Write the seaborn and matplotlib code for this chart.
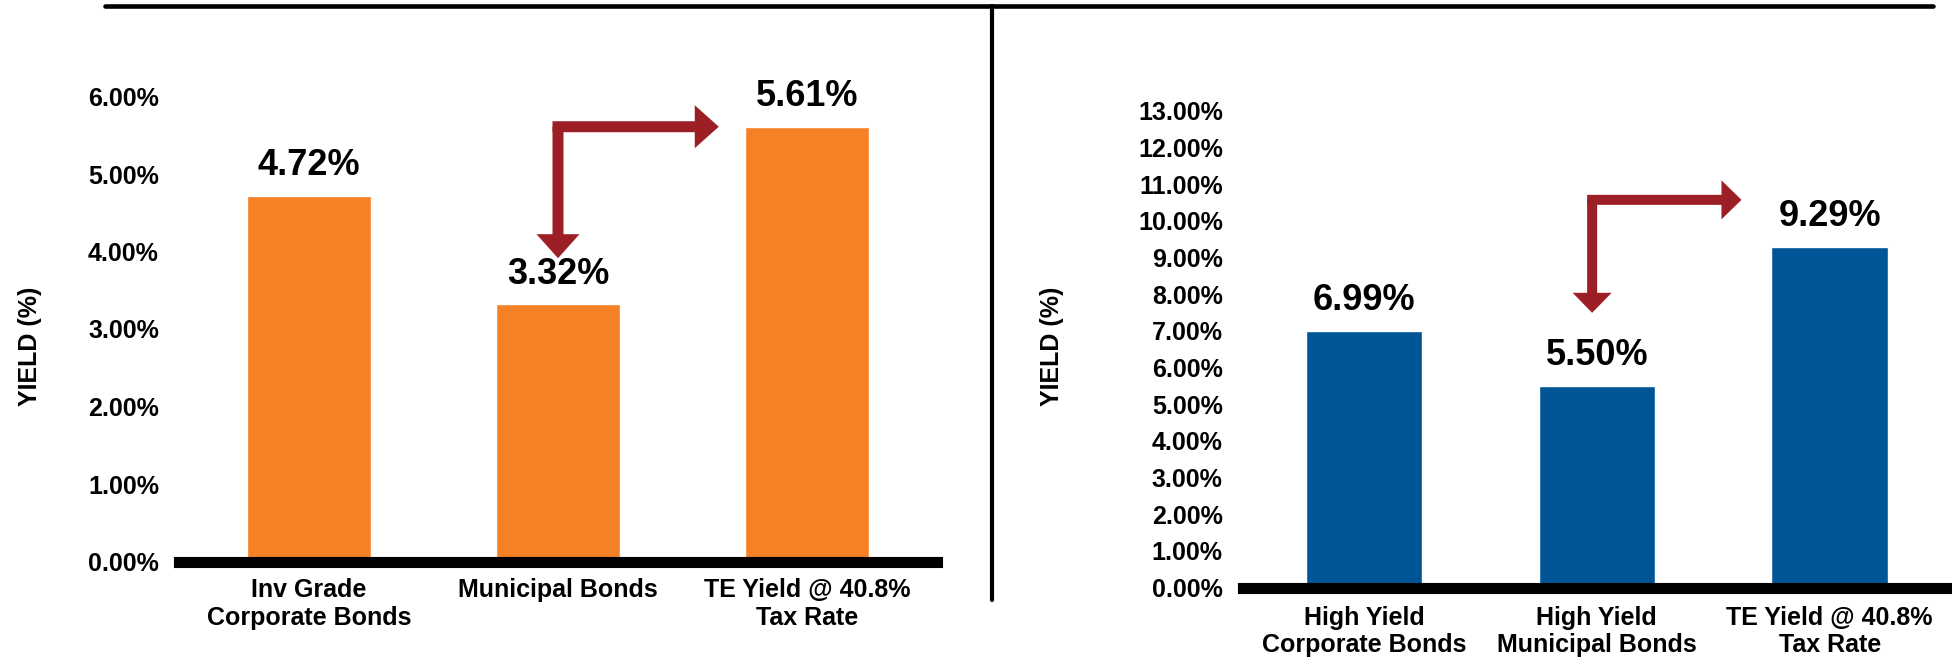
import matplotlib
matplotlib.use('Agg')
import matplotlib.pyplot as plt
from matplotlib.patches import FancyArrow
from matplotlib.lines import Line2D
import seaborn as sns

# data
ig_labels = ['Inv Grade\nCorporate Bonds', 'Municipal Bonds', 'TE Yield @ 40.8%\nTax Rate']
ig_yield = [4.72, 3.32, 5.61]

hy_labels = ['High Yield\nCorporate Bonds', 'High Yield\nMunicipal Bonds', 'TE Yield @ 40.8%\nTax Rate']
hy_yield = [6.99, 5.50, 9.29]

ORANGE = '#F58025'
BLUE = '#005596'
ARROW = '#9C1F26'

sns.set_style('white')
plt.rcParams['font.family'] = ['Liberation Sans', 'DejaVu Sans']
plt.rcParams['font.weight'] = 'bold'
# seaborn greys the text, reference is plain black
plt.rcParams['text.color'] = 'black'
plt.rcParams['axes.labelcolor'] = 'black'
plt.rcParams['xtick.color'] = 'black'
plt.rcParams['ytick.color'] = 'black'

W, H = 1952, 664
fig = plt.figure(figsize=(W / 100, H / 100), dpi=100)

# axes boxes in pixels: left, bottom(zero line), width, height
ax1 = fig.add_axes([179.5 / W, (H - 561.5) / H, 757 / W, 465 / H])
ax2 = fig.add_axes([1242.8 / W, (H - 587.5) / H, 708 / W, 476.7 / H])


def elbow_arrow(ax, x0, y0, x_tip, y_tip, shaft, head_w, head_len):
    # sizes given in pixels, converted to data units of this axes
    bb = ax.get_window_extent()
    xl, yl = ax.get_xlim(), ax.get_ylim()
    px = bb.width / (xl[1] - xl[0])
    py = bb.height / (yl[1] - yl[0])
    xs = x0 - shaft / 2 / px
    ax.add_patch(FancyArrow(xs, y0, x_tip - xs, 0, width=shaft / py,
                            head_width=head_w / py, head_length=head_len / px,
                            length_includes_head=True, color=ARROW, lw=0,
                            clip_on=False, zorder=5))
    ax.add_patch(FancyArrow(x0, y0, 0, y_tip - y0, width=shaft / px,
                            head_width=head_w / px, head_length=head_len / py,
                            length_includes_head=True, color=ARROW, lw=0,
                            clip_on=False, zorder=5))


def panel(ax, labels, vals, color, ymax, ypad_lab, tick_pad, xpad):
    sns.barplot(x=labels, y=vals, ax=ax, color=color, width=0.5, saturation=1)
    ax.set_xlim(-0.52, 2.52)
    ax.set_ylim(0, ymax)
    ax.set_yticks(range(0, ymax + 1))
    ax.set_yticklabels(['{:.2f}%'.format(v) for v in range(0, ymax + 1)])
    ax.tick_params(length=0, labelsize=18, pad=tick_pad, colors='black')
    ax.tick_params(axis='x', pad=xpad)
    for s in ['top', 'right', 'left']:
        ax.spines[s].set_visible(False)
    ax.spines['bottom'].set_linewidth(8)
    ax.spines['bottom'].set_color('black')
    ax.spines['bottom'].set_zorder(3)
    ax.bar_label(ax.containers[0], labels=['{:.2f}%'.format(v) for v in vals],
                 padding=ypad_lab, fontsize=26, fontweight='bold', color='black')
    ax.set_xlabel('')
    ax.set_ylabel('YIELD (%)', fontsize=18, fontweight='bold', va='center', color='black')
    ax.grid(False)


panel(ax1, ig_labels, ig_yield, ORANGE, 6, 9, 14.8, 12)
panel(ax2, hy_labels, hy_yield, BLUE, 13, 9.5, 14.4, 13)
ax1.yaxis.set_label_coords(-0.1975, 0.4634)
ax2.yaxis.set_label_coords(-0.2695, 0.5066)

# arrows: muni bar -> taxable equivalent bar
px1, py1 = 757 / 3.04, 465 / 6
elbow_arrow(ax1, 1, ig_yield[2], 2 - 0.25 - 26 / px1, ig_yield[1] + 46 / py1, 11, 43, 24)
px2, py2 = 708 / 3.04, 476.7 / 13
elbow_arrow(ax2, 0.98, hy_yield[2] + 47 / py2, 2 - 0.25 - 30 / px2, hy_yield[1] + 73 / py2, 10, 39, 20)

# frame lines
fig.add_artist(Line2D([105 / W, 1933 / W], [(H - 6) / H] * 2, color='black', lw=3.3))
fig.add_artist(Line2D([992 / W] * 2, [(H - 6) / H, (H - 600) / H], color='black', lw=3))

fig.savefig('out.png', dpi=100)
